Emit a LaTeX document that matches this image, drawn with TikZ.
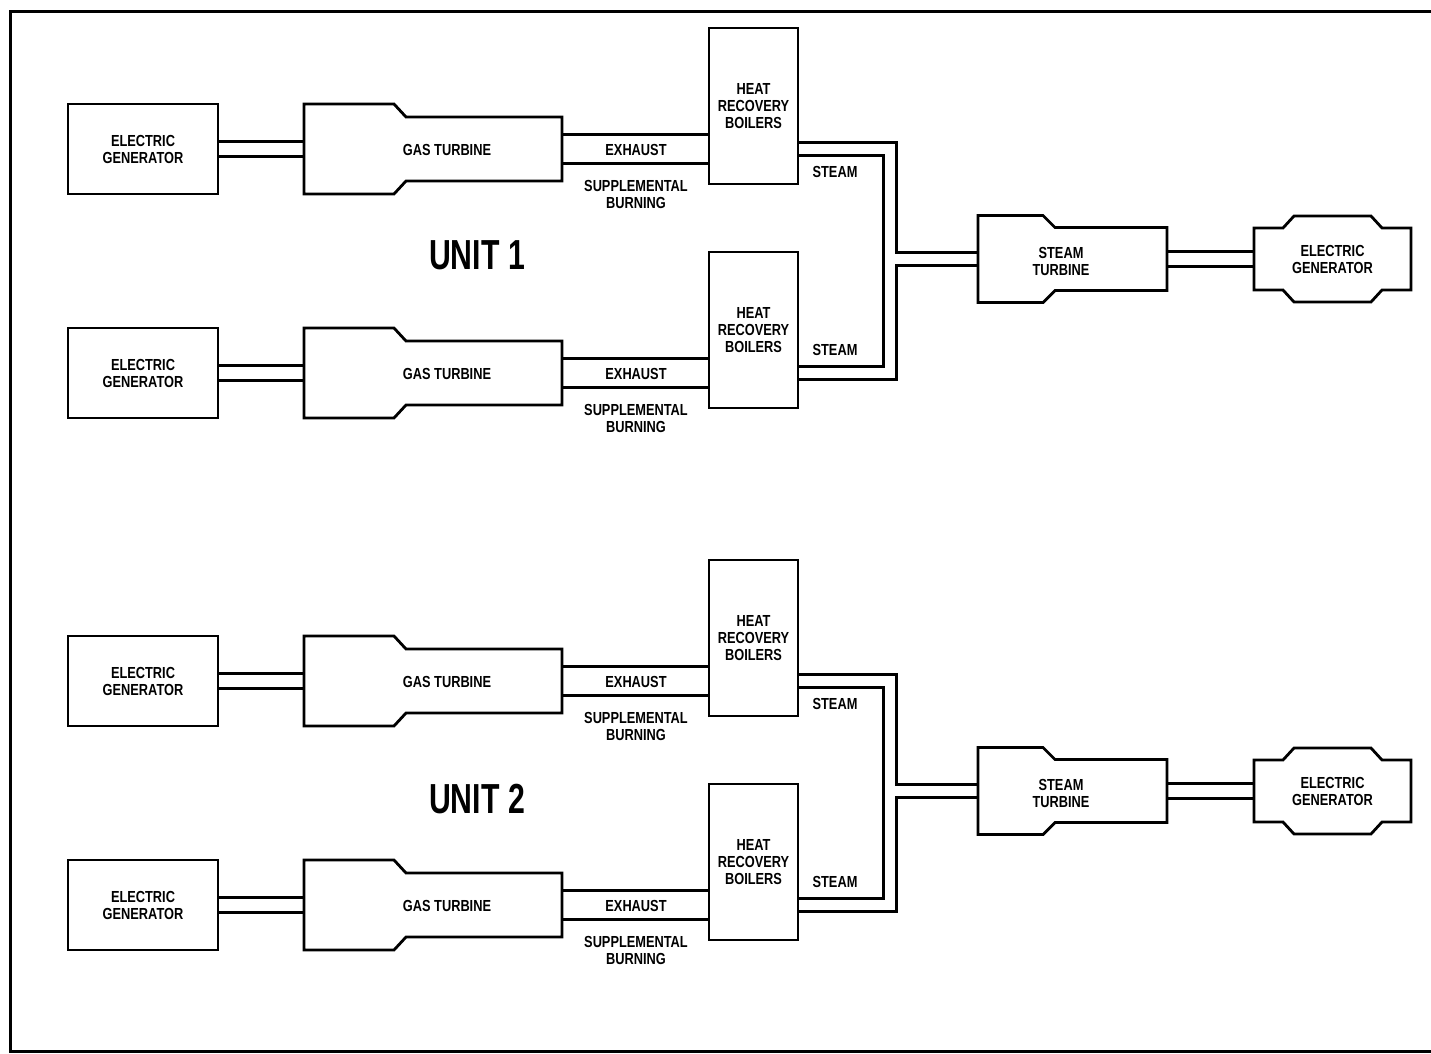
\documentclass[tikz,border=0pt]{standalone}
\usepackage{fontspec}
\newfontfamily\diagfont[FakeStretch=0.8]{Liberation Sans}
\newfontfamily\unitfont[FakeStretch=0.72]{Liberation Sans}
\usepackage{tikz}

\begin{document}
\begin{tikzpicture}[x=1pt, y=-1pt,
    box/.style={draw, rectangle, line width=2.8pt, align=center, inner sep=0pt, font=\diagfont\bfseries\fontsize{16pt}{17pt}\selectfont},
    unitshape/.style={rectangle, outer sep=0pt, inner sep=0pt, align=center, font=\diagfont\bfseries\fontsize{16pt}{17pt}\selectfont},
    lbl/.style={inner sep=0pt, align=center, font=\diagfont\bfseries\fontsize{16pt}{17pt}\selectfont},
    unitlbl/.style={inner sep=0pt, font=\unitfont\bfseries\fontsize{42pt}{44pt}\selectfont},
    outline/.style={line width=2.8pt, line join=miter},
    shaft/.style={double, double distance=12.5pt, line width=2.5pt},
    exhaust/.style={double, double distance=26.5pt, line width=2.5pt},
    steam/.style={double, double distance=10.5pt, line width=2.5pt, line join=miter}]
    \useasboundingbox (0,0) rectangle (1431,1053);

    % Frame
    \draw[line width=3pt] (1431,11) -- (10,11) -- (10,1051) -- (1431,1051);

    % Unit 1 - gas turbine trains
    \node[box, minimum width=150pt, minimum height=90pt] (gen1) at (143,149) {ELECTRIC\\GENERATOR};
    \node[unitshape, minimum width=258pt, minimum height=90pt] (gt1) at (433,149) {};
    \node[lbl] (gtlbl1) at (447,150) {GAS TURBINE};
    \node[box, minimum width=89pt, minimum height=156pt] (hrb1) at (753.5,106) {HEAT\\RECOVERY\\BOILERS};
    \node[lbl] (sup1) at (636,194) {SUPPLEMENTAL\\BURNING};
    \node[lbl] (stm1) at (835,172) {STEAM};

    \node[box, minimum width=150pt, minimum height=90pt] (gen2) at (143,373) {ELECTRIC\\GENERATOR};
    \node[unitshape, minimum width=258pt, minimum height=90pt] (gt2) at (433,373) {};
    \node[lbl] (gtlbl2) at (447,374) {GAS TURBINE};
    \node[box, minimum width=89pt, minimum height=156pt] (hrb2) at (753.5,330) {HEAT\\RECOVERY\\BOILERS};
    \node[lbl] (sup2) at (636,418) {SUPPLEMENTAL\\BURNING};
    \node[lbl] (stm2) at (835,350) {STEAM};

    % Unit 1 - steam train
    \node[unitshape, minimum width=189pt, minimum height=87pt] (st1) at (1072.5,259) {};
    \node[lbl] (stlbl1) at (1061,261) {STEAM\\TURBINE};
    \node[unitshape, minimum width=157pt, minimum height=86pt] (eg1) at (1332.5,259) {ELECTRIC\\GENERATOR};
    \coordinate (j1) at (890,259);
    \node[unitlbl] (unit1) at (477,255) {UNIT 1};

    % Unit 2 - gas turbine trains
    \node[box, minimum width=150pt, minimum height=90pt] (gen3) at (143,681) {ELECTRIC\\GENERATOR};
    \node[unitshape, minimum width=258pt, minimum height=90pt] (gt3) at (433,681) {};
    \node[lbl] (gtlbl3) at (447,682) {GAS TURBINE};
    \node[box, minimum width=89pt, minimum height=156pt] (hrb3) at (753.5,638) {HEAT\\RECOVERY\\BOILERS};
    \node[lbl] (sup3) at (636,726) {SUPPLEMENTAL\\BURNING};
    \node[lbl] (stm3) at (835,704) {STEAM};

    \node[box, minimum width=150pt, minimum height=90pt] (gen4) at (143,905) {ELECTRIC\\GENERATOR};
    \node[unitshape, minimum width=258pt, minimum height=90pt] (gt4) at (433,905) {};
    \node[lbl] (gtlbl4) at (447,906) {GAS TURBINE};
    \node[box, minimum width=89pt, minimum height=156pt] (hrb4) at (753.5,862) {HEAT\\RECOVERY\\BOILERS};
    \node[lbl] (sup4) at (636,950) {SUPPLEMENTAL\\BURNING};
    \node[lbl] (stm4) at (835,882) {STEAM};

    % Unit 2 - steam train
    \node[unitshape, minimum width=189pt, minimum height=87pt] (st2) at (1072.5,791) {};
    \node[lbl] (stlbl2) at (1061,793) {STEAM\\TURBINE};
    \node[unitshape, minimum width=157pt, minimum height=86pt] (eg2) at (1332.5,791) {ELECTRIC\\GENERATOR};
    \coordinate (j2) at (890,791);
    \node[unitlbl] (unit2) at (477,799) {UNIT 2};

    % Shafts and exhaust ducts
    \draw[shaft] (gen1) -- (gt1);
    \draw[shaft] (gen2) -- (gt2);
    \draw[shaft] (gen3) -- (gt3);
    \draw[shaft] (gen4) -- (gt4);
    \draw[exhaust] (gt1) -- (gt1 -| hrb1.west);
    \draw[exhaust] (gt2) -- (gt2 -| hrb2.west);
    \draw[exhaust] (gt3) -- (gt3 -| hrb3.west);
    \draw[exhaust] (gt4) -- (gt4 -| hrb4.west);
    \draw[shaft] (st1) -- (eg1);
    \draw[shaft] (st2) -- (eg2);

    % Exhaust labels (inside the ducts)
    \node[lbl] (exh1) at (636,150) {EXHAUST};
    \node[lbl] (exh2) at (636,374) {EXHAUST};
    \node[lbl] (exh3) at (636,682) {EXHAUST};
    \node[lbl] (exh4) at (636,906) {EXHAUST};

    % Steam headers
    \draw[steam] (hrb1.east |- gt1) -| (j1) -- (st1) (hrb2.east |- gt2) -| (j1);
    \draw[steam] (hrb3.east |- gt3) -| (j2) -- (st2) (hrb4.east |- gt4) -| (j2);

    % Turbine and generator outlines
    \draw[outline] (gt1.north west) -- ++(90,0) -- ++(12,13) -- ++(156,0) -- ++(0,64) -- ++(-156,0) -- ++(-12,13) -- (gt1.south west) -- cycle;
    \draw[outline] (gt2.north west) -- ++(90,0) -- ++(12,13) -- ++(156,0) -- ++(0,64) -- ++(-156,0) -- ++(-12,13) -- (gt2.south west) -- cycle;
    \draw[outline] (gt3.north west) -- ++(90,0) -- ++(12,13) -- ++(156,0) -- ++(0,64) -- ++(-156,0) -- ++(-12,13) -- (gt3.south west) -- cycle;
    \draw[outline] (gt4.north west) -- ++(90,0) -- ++(12,13) -- ++(156,0) -- ++(0,64) -- ++(-156,0) -- ++(-12,13) -- (gt4.south west) -- cycle;
    \draw[outline] (st1.north west) -- ++(65,0) -- ++(12,12) -- ++(112,0) -- ++(0,63) -- ++(-112,0) -- ++(-12,12) -- (st1.south west) -- cycle;
    \draw[outline] (st2.north west) -- ++(65,0) -- ++(12,12) -- ++(112,0) -- ++(0,63) -- ++(-112,0) -- ++(-12,12) -- (st2.south west) -- cycle;
    \draw[outline] (eg1.north west) ++(0,12) -- ++(29,0) -- ++(11,-12) -- ++(77,0) -- ++(11,12) -- ++(29,0) -- ++(0,62) -- ++(-29,0) -- ++(-11,12) -- ++(-77,0) -- ++(-11,-12) -- ++(-29,0) -- cycle;
    \draw[outline] (eg2.north west) ++(0,12) -- ++(29,0) -- ++(11,-12) -- ++(77,0) -- ++(11,12) -- ++(29,0) -- ++(0,62) -- ++(-29,0) -- ++(-11,12) -- ++(-77,0) -- ++(-11,-12) -- ++(-29,0) -- cycle;
\end{tikzpicture}
\end{document}
